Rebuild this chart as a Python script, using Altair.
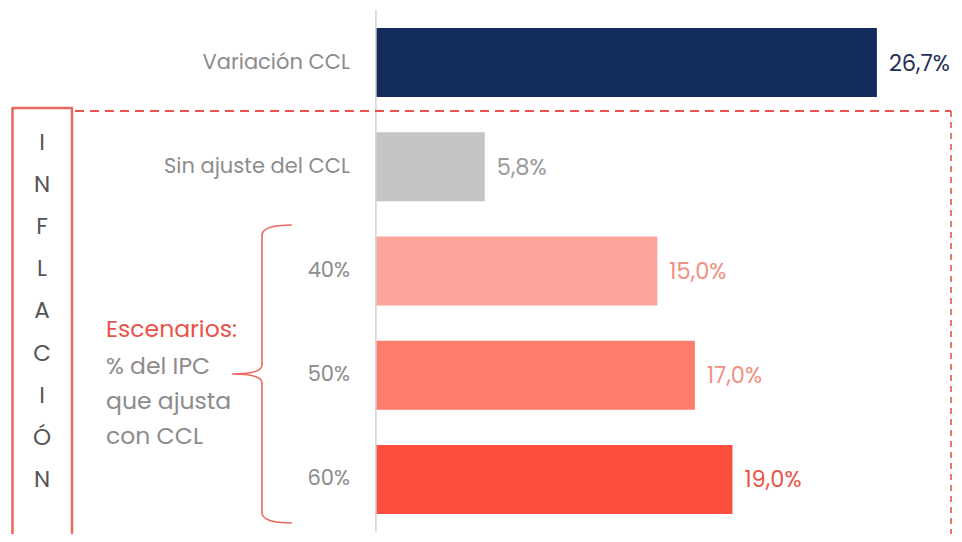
import altair as alt
import pandas as pd

categories = ["Variación CCL", "Sin ajuste del CCL", "40%", "50%", "60%"]
values = [26.7, 5.8, 15.0, 17.0, 19.0]
value_labels = ["26,7%", "5,8%", "15,0%", "17,0%", "19,0%"]
bar_colors = ["#142c5c", "#c4c4c4", "#fca59a", "#fd7d6d", "#fd4d3c"]
label_colors = ["#1f3157", "#9a9a9a", "#f28f82", "#f28f82", "#e8534a"]
side_letters = list("INFLACIÓN")
scenario_title = "Escenarios:"
scenario_lines = ["% del IPC", "que ajusta", "con CCL"]

FONT = "Poppins, Open Sans, sans-serif"
RED = "#e8695e"
DASH_RED = "#e8544a"

df = pd.DataFrame({
    "cat": categories,
    "val": values,
    "lab": value_labels,
})

W, H = 946, 526
x_scale = alt.Scale(domain=[-19.61, 30.81], nice=False, zero=False)
y_scale = alt.Scale(domain=categories, paddingInner=0.338, paddingOuter=0.192)

base = alt.Chart(df)

bars = base.mark_bar().encode(
    x=alt.X("val:Q", scale=x_scale, axis=None),
    y=alt.Y("cat:N", scale=y_scale, axis=None),
    fill=alt.Fill("cat:N", scale=alt.Scale(domain=categories, range=bar_colors), legend=None),
)

vals = base.mark_text(align="left", baseline="middle", dx=12, dy=1, fontSize=22.5, font=FONT).encode(
    x=alt.X("val:Q", scale=x_scale, axis=None),
    y=alt.Y("cat:N", scale=y_scale, axis=None),
    text="lab:N",
    color=alt.Color("cat:N", scale=alt.Scale(domain=categories, range=label_colors), legend=None),
)

cats = base.mark_text(align="right", baseline="middle", fontSize=21, font=FONT, color="#8c8c8c").encode(
    x=alt.value(342),
    y=alt.Y("cat:N", scale=y_scale, axis=None),
    text="cat:N",
)

zero_df = pd.DataFrame({"z": [0.0]})
axis_line = alt.Chart(zero_df).mark_rule(color="#d4d4d4", strokeWidth=1.5).encode(
    x=alt.X("z:Q", scale=x_scale, axis=None),
    y=alt.value(2),
    y2=alt.value(524),
)

one = alt.Chart(pd.DataFrame({"a": [0]}))

dash_top = one.mark_rule(color=DASH_RED, strokeWidth=2, strokeDash=[9, 6]).encode(
    x=alt.value(67), x2=alt.value(943), y=alt.value(103)
)
dash_right = one.mark_rule(color=DASH_RED, strokeWidth=1.6, strokeDash=[6, 5]).encode(
    x=alt.value(943), y=alt.value(103), y2=alt.value(540)
)
box_left = one.mark_rule(color=RED, strokeWidth=2.5).encode(
    x=alt.value(4.5), y=alt.value(100), y2=alt.value(540)
)
box_right = one.mark_rule(color=RED, strokeWidth=2.5).encode(
    x=alt.value(64), y=alt.value(100), y2=alt.value(540)
)
box_top = one.mark_rule(color=RED, strokeWidth=2.5).encode(
    x=alt.value(3.5), x2=alt.value(65), y=alt.value(100)
)

letters_df = pd.DataFrame({"t": [side_letters]})
letters = alt.Chart(letters_df).mark_text(
    align="center", baseline="middle", fontSize=23, font=FONT, color="#555555", lineHeight=42.1
).encode(x=alt.value(34), y=alt.value(135), text="t:N")

brace_path = (
    "M 0.2 -1 Q 0 -1 0 -0.93 L 0 -0.06 Q 0 0 -0.2 0 "
    "Q 0 0 0 0.06 L 0 0.93 Q 0 1 0.2 1"
)
brace = one.mark_point(
    shape=brace_path, size=298 * 298, filled=False, stroke=RED, strokeWidth=1.6, opacity=1
).encode(x=alt.value(254), y=alt.value(366))

esc_title = one.mark_text(align="left", baseline="middle", fontSize=23.5, font=FONT, color="#e8534a").encode(
    x=alt.value(98), y=alt.value(322), text=alt.value(scenario_title)
)
esc_df = pd.DataFrame({"t": [scenario_lines]})
esc_lines = alt.Chart(esc_df).mark_text(
    align="left", baseline="middle", fontSize=23.5, font=FONT, color="#8c8c8c", lineHeight=35
).encode(x=alt.value(98), y=alt.value(359), text="t:N")

chart = alt.layer(
    bars, vals, cats, axis_line, dash_top, dash_right, box_left, box_right, box_top,
    letters, brace, esc_title, esc_lines
).properties(
    width=W, height=H, autosize=alt.AutoSizeParams(type="none"), padding=0
).resolve_scale(color="independent").configure_view(strokeWidth=0)

chart.save("out.html", embed_options={"renderer": "svg", "actions": False})
